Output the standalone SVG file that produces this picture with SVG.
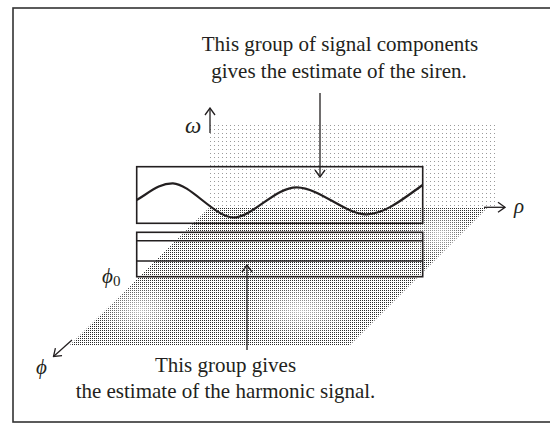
<svg xmlns="http://www.w3.org/2000/svg" width="550" height="423" viewBox="0 0 550 423">
<style>
.t{font-family:"Liberation Serif","Times New Roman",serif;font-size:21px;fill:#231f20}
.g{font-family:"Liberation Serif","DejaVu Serif",serif;font-style:italic;font-size:21px;fill:#231f20}
.ln{fill:none;stroke:#231f20;stroke-width:1.3}
.box{fill:none;stroke:#231f20;stroke-width:1.6}
</style>
<defs>
<pattern id="sparse" width="4" height="4" patternUnits="userSpaceOnUse" x="210" y="125"><rect x="0" y="0" width="1" height="1" fill="#9a9a9a"/></pattern>
<pattern id="dense" width="2" height="2" patternUnits="userSpaceOnUse"><rect x="0" y="0" width="1" height="1" fill="#2a2a2a"/></pattern>
<radialGradient id="fade"><stop offset="0" stop-color="#fff" stop-opacity="0.7"/><stop offset="1" stop-color="#fff" stop-opacity="0"/></radialGradient>
<clipPath id="pg"><polygon points="210,207 488,207 350,345 70,345"/></clipPath>
<marker id="ah" viewBox="0 0 12 12" refX="11" refY="6" markerWidth="12" markerHeight="12" markerUnits="userSpaceOnUse" orient="auto"><path d="M4,1 L11,6 L4,11" fill="none" stroke="#231f20" stroke-width="1.3"/></marker>
</defs>
<rect x="13" y="8" width="545" height="414" fill="none" stroke="#333" stroke-width="1.6"/>
<g id="planes">
<rect x="210" y="125" width="286" height="82" fill="url(#sparse)"/>
<polygon points="210,207 488,207 350,345 70,345" fill="url(#dense)"/>
<g clip-path="url(#pg)">
<ellipse cx="140" cy="310" rx="45" ry="30" fill="url(#fade)"/>
<ellipse cx="300" cy="310" rx="60" ry="30" fill="url(#fade)"/>
<ellipse cx="440" cy="235" rx="35" ry="28" fill="url(#fade)"/>
</g>
</g>
<g id="siren-box">
<rect class="box" x="136.7" y="166.7" width="286" height="56.6"/>
<path d="M136.7,200 C150,192 160,183 173,183.3 C190,184 215,217 233,217.5 C252,218 275,187 297,187.3 C320,188 345,214 366,214.3 C385,215 408,195 422.7,185" fill="none" stroke="#231f20" stroke-width="2.2"/>
</g>
<g id="harmonic-box">
<rect class="box" x="136.7" y="232.3" width="286" height="44.4"/>
<line class="box" x1="136.7" y1="240.7" x2="422.7" y2="240.7"/>
<line class="box" x1="136.7" y1="261" x2="422.7" y2="261"/>
</g>
<g id="connectors">
<line class="ln" x1="320" y1="93" x2="320" y2="177" marker-end="url(#ah)"/>
<line class="ln" x1="247" y1="350" x2="247" y2="265" marker-end="url(#ah)"/>
<line class="ln" x1="210" y1="133" x2="210" y2="108" marker-end="url(#ah)"/>
<line class="ln" x1="484" y1="207.3" x2="505" y2="207.3" marker-end="url(#ah)"/>
<line class="ln" x1="72" y1="340" x2="53.5" y2="356.5" marker-end="url(#ah)"/>
</g>
<g id="labels">
<text class="t" x="340" y="50.7" text-anchor="middle">This group of signal components</text>
<text class="t" x="339" y="78" text-anchor="middle">gives the estimate of the siren.</text>
<text class="t" x="225.5" y="371.7" text-anchor="middle">This group gives</text>
<text class="t" x="225.5" y="398" text-anchor="middle">the estimate of the harmonic signal.</text>
<text class="g" x="185" y="133" style="font-size:23px">ω</text>
<text class="g" x="514" y="213">ρ</text>
<text class="g" x="36" y="374">ϕ</text>
<text class="g" x="102" y="283">ϕ<tspan style="font-style:normal;font-size:15px" dy="3">0</tspan></text>
</g>
</svg>
